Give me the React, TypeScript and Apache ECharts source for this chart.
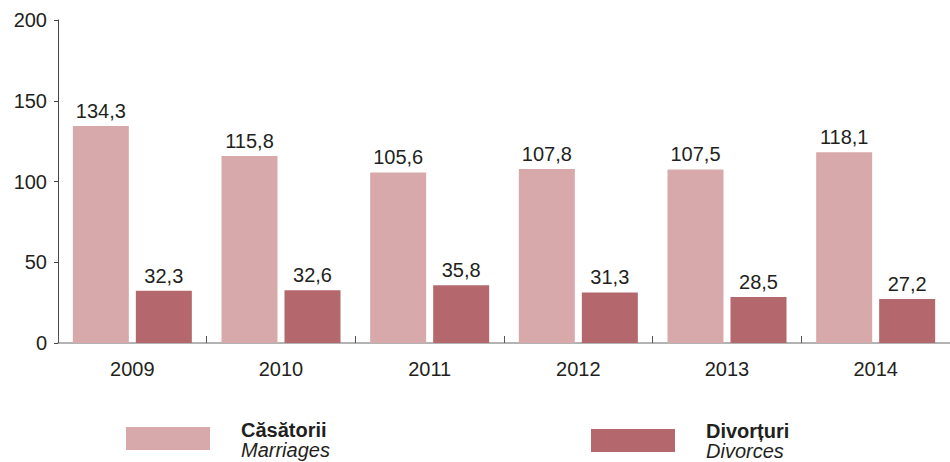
import React, { useEffect, useRef } from "react";
import * as echarts from "echarts";

const years = ["2009", "2010", "2011", "2012", "2013", "2014"];
const marriages = [134.3, 115.8, 105.6, 107.8, 107.5, 118.1];
const divorces = [32.3, 32.6, 35.8, 31.3, 28.5, 27.2];
const yTicks = { min: 0, max: 200, interval: 50 };
const legendLabels = [
  { ro: "Căsătorii", en: "Marriages" },
  { ro: "Divorțuri", en: "Divorces" },
];

const FONT = "'Liberation Sans', Arial, Helvetica, sans-serif";
const TEXT = "#231f20";
const C_MAR = "#d8a9aa";
const C_DIV = "#b4676c";

const fmt = (v: number) => v.toFixed(1).replace(".", ",");

export default function App() {
  const ref = useRef<HTMLDivElement>(null);
  useEffect(() => {
    document.body.style.margin = "0";
    if (!ref.current) return;
    const chart = echarts.init(ref.current, undefined, { renderer: "svg" });
    const labelStyle = {
      show: true,
      position: "top" as const,
      distance: 5,
      fontFamily: FONT,
      fontSize: 20,
      color: TEXT,
      formatter: (p: any) => fmt(p.value),
    };
    const legendItem = (x: number, y: number, color: string, tx: number, ty: number, l: { ro: string; en: string }) => [
      { type: "rect", shape: { x, y, width: 84, height: 23 }, style: { fill: color } },
      {
        type: "text",
        x: tx,
        y: ty,
        style: {
          text: `{b|${l.ro}}\n{i|${l.en}}`,
          rich: {
            b: { fontFamily: FONT, fontSize: 20, fontWeight: "bold", fill: TEXT, lineHeight: 20 },
            i: { fontFamily: FONT, fontSize: 20, fontStyle: "italic", fill: TEXT, lineHeight: 20 },
          },
          fill: TEXT,
        },
      },
    ];
    chart.setOption({
      animation: false,
      textStyle: { fontFamily: FONT },
      grid: { left: 58, right: 0, top: 20, bottom: 119, containLabel: false },
      xAxis: {
        type: "category",
        data: years,
        axisLine: { show: true, lineStyle: { color: "#9a9a9a", width: 1.5 } },
        axisTick: { show: true, inside: true, length: 7, interval: 0, lineStyle: { color: "#555" } },
        axisLabel: { fontFamily: FONT, fontSize: 20, color: TEXT, margin: 16 },
      },
      yAxis: {
        type: "value",
        min: yTicks.min,
        max: yTicks.max,
        interval: yTicks.interval,
        splitLine: { show: false },
        axisLine: { show: true, lineStyle: { color: "#444", width: 1 } },
        axisTick: { show: true, length: 4, lineStyle: { color: "#444" } },
        axisLabel: { fontFamily: FONT, fontSize: 20, color: TEXT, margin: 11 },
      },
      series: [
        {
          name: legendLabels[0].ro,
          type: "bar",
          data: marriages,
          barWidth: 56,
          barGap: "12.5%",
          itemStyle: { color: C_MAR },
          label: labelStyle,
        },
        {
          name: legendLabels[1].ro,
          type: "bar",
          data: divorces,
          barWidth: 56,
          barGap: "12.5%",
          itemStyle: { color: C_DIV },
          label: labelStyle,
        },
      ],
      graphic: [
        ...legendItem(126, 427, C_MAR, 241, 420, legendLabels[0]),
        ...legendItem(591, 429, C_DIV, 706, 421, legendLabels[1]),
      ],
    });
    return () => chart.dispose();
  }, []);
  return <div ref={ref} style={{ width: 950, height: 462 }} />;
}
